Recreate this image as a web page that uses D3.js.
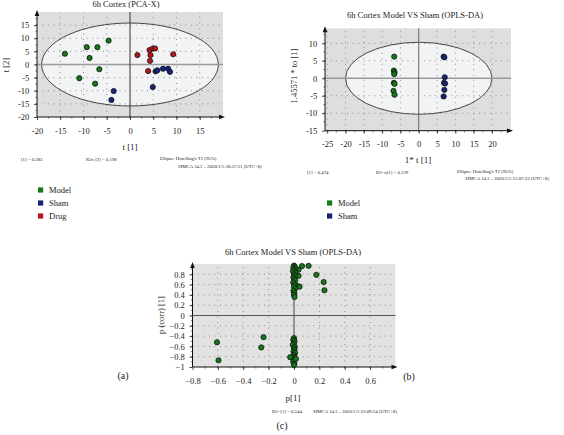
<!DOCTYPE html>
<html><head><meta charset="utf-8">
<script src="https://cdn.jsdelivr.net/npm/d3@7"></script>
<style>html,body{margin:0;padding:0;background:#fff}svg{display:block;font-family:"Liberation Serif","DejaVu Serif",serif}</style>
</head><body><svg id="c" width="564" height="435"></svg>
<script>
// ---------- DATA ----------
const groups = ["Model","Sham","Drug"];
const groupColors = ["#137a17","#15237a","#bb151a"];
// Panel (a) PCA-X scores
const pcaModelX = [-14.0,-9.3,-7.0,-4.6,-8.7,-6.6,-10.9,-7.5];
const pcaModelY = [4.1,6.6,6.6,9.1,2.5,-1.8,-5.2,-7.3];
const pcaShamX  = [-3.5,-4.0,4.9,5.5,5.9,7.1,8.2,8.6];
const pcaShamY  = [-10.1,-13.5,-8.6,-2.6,-2.2,-1.6,-1.6,-2.8];
const pcaDrugX  = [1.6,3.9,4.3,4.4,4.2,4.9,5.4,9.3];
const pcaDrugY  = [3.6,-2.5,1.4,3.6,5.5,6.1,6.1,3.9];
const pcaTicksX = [-20,-15,-10,-5,0,5,10,15];
const pcaTicksY = [-20,-15,-10,-5,0,5,10,15];
// Panel (b) OPLS-DA scores
const oplsModelX = [-6.7,-6.8,-6.6,-6.7,-6.8,-6.6,-6.9,-6.6];
const oplsModelY = [6.2,2.2,1.7,1.2,-1.3,-1.6,-3.6,-4.7];
const oplsShamX  = [6.8,7.0,7.1,6.9,7.2,7.0,6.8];
const oplsShamY  = [6.2,6.0,0.3,-1.3,-1.5,-3.3,-5.2];
const oplsTicksX = [-25,-20,-15,-10,-5,0,5,10,15,20];
const oplsTicksY = [-15,-10,-5,0,5,10];
// Panel (c) S-plot
const splotX = [-0.607,-0.595,-0.24,-0.258,0.063,0.115,0.176,0.234,0.24,0.036,0.036,0.03,0.044,
  0.0,0.005,-0.005,0.01,0.0,-0.008,0.012,0.0,0.006,-0.004,0.0,0.01,-0.006,0.004,0.0,0.008,-0.004,0.002,0.0,0.004,
  0.0,-0.006,0.004,0.0,-0.01,0.006,0.0,0.004,-0.004,0.008,0.0,-0.003,0.005,0.0,-0.006,0.003,0.0,-0.03,0.015];
const splotY = [-0.52,-0.87,-0.42,-0.62,0.96,0.965,0.79,0.65,0.49,0.89,0.77,0.57,0.56,
  0.97,0.95,0.93,0.91,0.88,0.86,0.83,0.80,0.77,0.74,0.71,0.68,0.64,0.60,0.56,0.52,0.48,0.44,0.40,0.36,
  -0.44,-0.47,-0.50,-0.54,-0.57,-0.61,-0.64,-0.67,-0.70,-0.73,-0.77,-0.80,-0.83,-0.86,-0.90,-0.93,-0.96,-0.81,-0.84];
const splotTicksX = [-0.8,-0.6,-0.4,-0.2,0,0.2,0.4,0.6];
const splotTicksY = [-1,-0.8,-0.6,-0.4,-0.2,0,0.2,0.4,0.6,0.8];

const svg = d3.select("#c");

function panel(o){
  const g = svg.append("g");
  const x = d3.scaleLinear().domain(o.xd).range(o.xr);
  const y = d3.scaleLinear().domain(o.yd).range(o.yr);
  const [x0,x1] = o.xr, [y0,y1] = o.yr; // y0 bottom, y1 top
  g.append("rect").attr("x",x0).attr("y",y1).attr("width",x1-x0).attr("height",y0-y1).attr("fill",o.bg);
  if(o.ell){
    g.append("ellipse").attr("cx",x(0)).attr("cy",y(0))
      .attr("rx",x(o.ell[0])-x(0)).attr("ry",y(0)-y(o.ell[1]))
      .attr("fill","#f1f3f5").attr("stroke","#333").attr("stroke-width",0.9);
  }
  // dotted grid
  o.tx.filter(t=>t!==0 && x(t)>x0+2).forEach(t=>{
    g.append("line").attr("x1",x(t)).attr("x2",x(t)).attr("y1",y0).attr("y2",y1)
      .attr("stroke","#777").attr("stroke-width",0.9).attr("stroke-dasharray","0.9,4.6");
  });
  o.ty.filter(t=>t!==0 && y(t)<y0-2).forEach(t=>{
    g.append("line").attr("x1",x0).attr("x2",x1).attr("y1",y(t)).attr("y2",y(t))
      .attr("stroke","#777").attr("stroke-width",0.9).attr("stroke-dasharray","0.9,4.6");
  });
  // zero lines
  g.append("line").attr("x1",x0).attr("x2",x1).attr("y1",y(0)).attr("y2",y(0))
    .attr("stroke",o.hz).attr("stroke-width",o.hzw);
  g.append("line").attr("x1",x(0)).attr("x2",x(0)).attr("y1",y0).attr("y2",y1)
    .attr("stroke",o.vz).attr("stroke-width",1);
  // axes
  const ax = d3.axisBottom(x).tickValues(o.tx).tickSize(3).tickFormat(o.fmt||(d=>d));
  const ay = d3.axisLeft(y).tickValues(o.ty).tickSize(3).tickFormat(o.fmt||(d=>d));
  const gx = g.append("g").attr("transform",`translate(0,${y0})`).call(ax);
  const gy = g.append("g").attr("transform",`translate(${x0},0)`).call(ay);
  [gx,gy].forEach(a=>{
    a.select(".domain").remove();
    a.selectAll("text").attr("font-family","Liberation Serif").attr("font-size",8.5).attr("fill","#222");
    a.selectAll("line").attr("stroke","#222").attr("stroke-width",0.8);
  });
  gx.selectAll("text").attr("dy",o.xdy||"1.25em");
  gy.selectAll("text").attr("dx",o.ydx||"-0.2em");
  // minor ticks
  const mx = o.minorX, my = o.minorY;
  d3.range(o.tx[0], o.xd[1], mx).forEach(t=>{ if(x(t)>x0 && x(t)<x1-4)
    g.append("line").attr("x1",x(t)).attr("x2",x(t)).attr("y1",y0).attr("y2",y0+1.6).attr("stroke","#222").attr("stroke-width",0.6);});
  d3.range(o.ty[0], o.yd[1], my).forEach(t=>{ if(y(t)<y0 && y(t)>y1+4)
    g.append("line").attr("x1",x0).attr("x2",x0-1.6).attr("y1",y(t)).attr("y2",y(t)).attr("stroke","#222").attr("stroke-width",0.6);});
  g.append("line").attr("x1",x0).attr("x2",x1).attr("y1",y0).attr("y2",y0).attr("stroke","#111").attr("stroke-width",1);
  g.append("line").attr("x1",x0).attr("x2",x0).attr("y1",y0).attr("y2",y1).attr("stroke","#111").attr("stroke-width",1);
  g.append("path").attr("d",`M${x1+2},${y0} L${x1-4},${y0-2.3} L${x1-4},${y0+2.3}Z`).attr("fill","#111");
  g.append("path").attr("d",`M${x0},${y1-2} L${x0-2.3},${y1+4} L${x0+2.3},${y1+4}Z`).attr("fill","#111");
  // points
  o.series.forEach(s=>{
    g.selectAll(null).data(d3.range(s.xs.length)).enter().append("circle")
      .attr("cx",i=>x(s.xs[i])).attr("cy",i=>y(s.ys[i])).attr("r",2.6)
      .attr("fill",s.color).attr("stroke","#111").attr("stroke-width",0.8);
  });
  // texts
  const t = (tx,ty,str,size,anchor,extra)=>{
    const e = g.append("text").attr("x",tx).attr("y",ty).attr("font-size",size)
      .attr("text-anchor",anchor||"middle").attr("fill","#222").text(str);
    if(extra) extra(e); return e;
  };
  t(o.title[0],o.title[1],o.title[2],8.5);
  t(o.xlab[0],o.xlab[1],o.xlab[2],9);
  t(0,0,o.ylab[2],8.5,"middle",e=>e.attr("transform",`translate(${o.ylab[0]},${o.ylab[1]}) rotate(-90)`));
  (o.notes||[]).forEach(n=>t(n[0],n[1],n[2],4.8,"start"));
  (o.legend||[]).forEach((l,i)=>{
    g.append("rect").attr("x",l[0]).attr("y",l[1]-2.6).attr("width",5.2).attr("height",5.2).attr("fill",l[3]);
    t(l[0]+11,l[1]+3,l[2],8.5,"start");
  });
  t(o.tag[0],o.tag[1],o.tag[2],10);
}

panel({
  xd:[-20,20], xr:[37,223], yd:[-20,20], yr:[117,12], bg:"#dedede", ell:[19,15.8],
  tx:pcaTicksX, ty:pcaTicksY, minorX:2.5, minorY:2.5, hz:"#999", hzw:1.6, vz:"#333",
  series:[{xs:pcaModelX,ys:pcaModelY,color:groupColors[0]},{xs:pcaShamX,ys:pcaShamY,color:groupColors[1]},{xs:pcaDrugX,ys:pcaDrugY,color:groupColors[2]}],
  title:[126,7,"6h Cortex (PCA-X)"], xlab:[130,150,"t [1]"], ylab:[9,65,"t [2]"],
  notes:[[21,161,"[1] = 0.283"],[86,161,"R2x [2] = 0.198"],[160,160,"Ellipse: Hotelling's T2 (95%)"],[178,167.5,"SIMCA 14.1 \u2013 2020/1/5 20:57:11 (UTC+8)"]],
  legend:[[38,190,groups[0],groupColors[0]],[38,203,groups[1],groupColors[1]],[38,216,groups[2],groupColors[2]]],
  tag:[123,379,"(a)"]
});
panel({
  xd:[-25.6,25.2], xr:[325,511], yd:[-15,14.3], yr:[130.7,28.3], bg:"#dedede", ell:[20,10.3],
  tx:oplsTicksX, ty:oplsTicksY, minorX:2.5, minorY:2.5, hz:"#999", hzw:1.4, vz:"#666",
  series:[{xs:oplsModelX,ys:oplsModelY,color:groupColors[0]},{xs:oplsShamX,ys:oplsShamY,color:groupColors[1]}],
  title:[415,18,"6h Cortex Model VS Sham (OPLS-DA)"], xlab:[418,163,"1* t [1]"], ylab:[297,76,"1.45571 * to [1]"],
  notes:[[307,174,"[1] = 0.474"],[376,174,"R2=o[1] = 0.129"],[457,173,"Ellipse: Hotelling's T2 (95%)"],[465,180,"SIMCA 14.1 \u2013 2020/1/5 21:07:32 (UTC+8)"]],
  legend:[[327,203,groups[0],groupColors[0]],[327,216,groups[1],groupColors[1]]],
  tag:[409,380,"(b)"]
});
panel({
  xd:[-0.8,0.8], xr:[192.5,395.5], yd:[-1,1], yr:[367,264], bg:"#e2e2e2", ell:null,
  tx:splotTicksX, ty:splotTicksY, minorX:0.1, minorY:0.1, hz:"#555", hzw:1, vz:"#444",
  fmt:d=>d3.format("")(+d.toFixed(1)).replace("-","\u2212"),
  series:[{xs:splotX,ys:splotY,color:groupColors[0]}],
  title:[293,255,"6h Cortex Model VS Sham (OPLS-DA)"], xlab:[293,401,"p[1]"], ylab:[164,315,"p (corr) [1]"],
  notes:[[272,413,"R2=[1] = 0.544"],[313,413,"SIMCA 14.1 \u2013 2020/1/5 22:09:54 (UTC+8)"]],
  tag:[282,429,"(c)"]
});
</script></body></html>
